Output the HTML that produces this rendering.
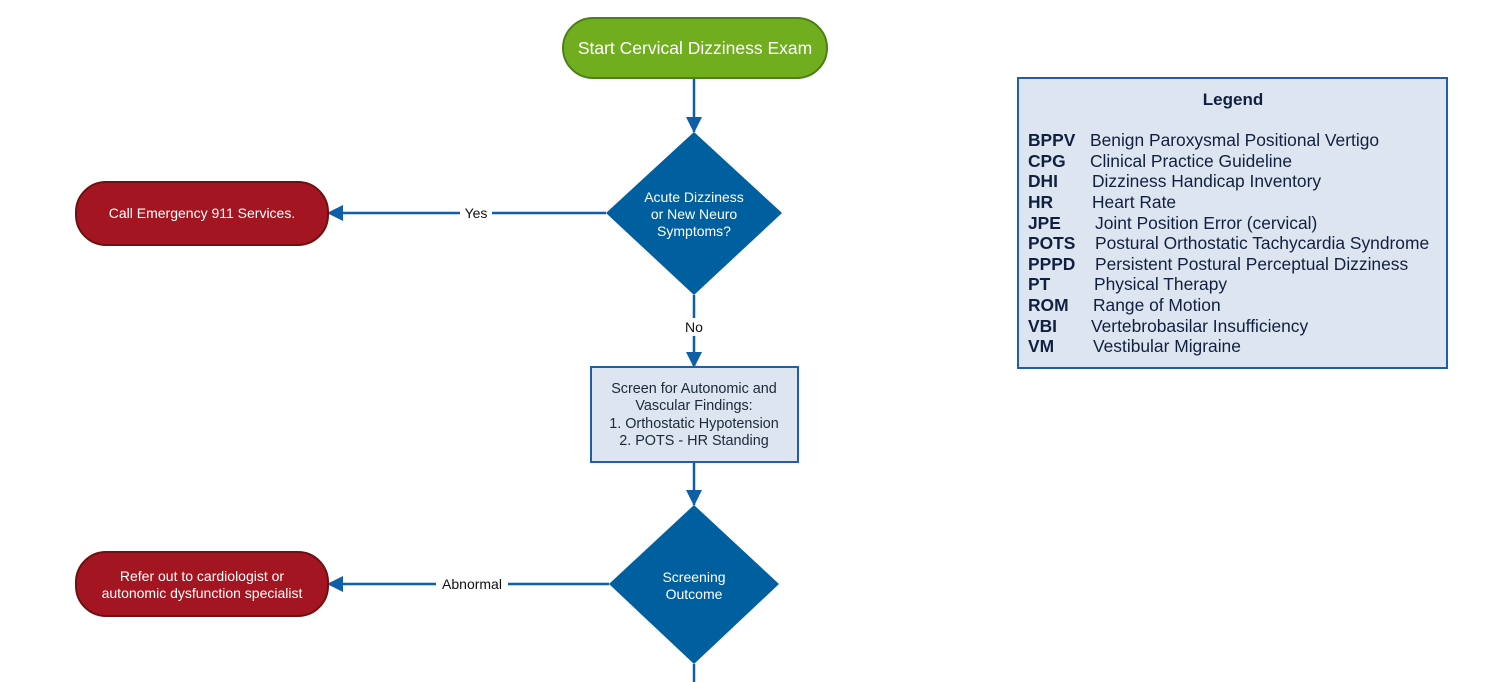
<!DOCTYPE html>
<html><head><style>body{margin:0;background:#fff}svg{display:block}</style></head><body>
<svg width="1487" height="682" xmlns="http://www.w3.org/2000/svg" font-family="Liberation Sans, Arial, sans-serif">
<defs><marker id="b" markerWidth="16" markerHeight="16" refX="15" refY="8" orient="auto" markerUnits="userSpaceOnUse" viewBox="0 0 16 16"><path d="M0,0L16,8L0,16z" fill="#0f5ea8"/></marker></defs>
<g stroke="#0f5ea8" stroke-width="2.5" fill="none">
<line x1="694" y1="78" x2="694" y2="132" marker-end="url(#b)"/>
<line x1="606" y1="213" x2="328" y2="213" marker-end="url(#b)"/>
<line x1="694" y1="295" x2="694" y2="367" marker-end="url(#b)"/>
<line x1="694" y1="462" x2="694" y2="505" marker-end="url(#b)"/>
<line x1="609" y1="584" x2="328" y2="584" marker-end="url(#b)"/>
<line x1="694" y1="664" x2="694" y2="682"/>
</g>
<rect x="563" y="18" width="264" height="60" rx="30" fill="#70ad1f" stroke="#4d7f17" stroke-width="2"/>
<text x="695" y="54" fill="#fff" font-size="17.5" text-anchor="middle">Start Cervical Dizziness Exam</text>
<polygon points="694,132 782,213 694,295 606,213" fill="#005f9e"/>
<text fill="#fff" font-size="14" text-anchor="middle"><tspan x="694" y="202">Acute Dizziness</tspan><tspan x="694" y="219">or New Neuro</tspan><tspan x="694" y="236">Symptoms?</tspan></text>
<rect x="76" y="182" width="252" height="63" rx="30" fill="#a31621" stroke="#6e1010" stroke-width="2"/>
<text x="202" y="218" fill="#fff" font-size="14" text-anchor="middle">Call Emergency 911 Services.</text>
<rect x="460" y="204" width="32" height="18" fill="#fff"/>
<text x="476" y="218" font-size="14" text-anchor="middle" fill="#111">Yes</text>
<rect x="682" y="318" width="24" height="18" fill="#fff"/>
<text x="694" y="332" font-size="14" text-anchor="middle" fill="#111">No</text>
<rect x="591" y="367" width="207" height="95" fill="#dde5f0" stroke="#1f5fa8" stroke-width="2"/>
<text fill="#1a2a3a" font-size="14.4" text-anchor="middle"><tspan x="694" y="393">Screen for Autonomic and</tspan><tspan x="694" y="410">Vascular Findings:</tspan><tspan x="694" y="428">1. Orthostatic Hypotension</tspan><tspan x="694" y="445">2. POTS - HR Standing</tspan></text>
<polygon points="694,505 779,584 694,664 609,584" fill="#005f9e"/>
<text fill="#fff" font-size="14" text-anchor="middle"><tspan x="694" y="582">Screening</tspan><tspan x="694" y="599">Outcome</tspan></text>
<rect x="76" y="552" width="252" height="64" rx="30" fill="#a31621" stroke="#6e1010" stroke-width="2"/>
<text fill="#fff" font-size="14" text-anchor="middle"><tspan x="202" y="581">Refer out to cardiologist or</tspan><tspan x="202" y="598">autonomic dysfunction specialist</tspan></text>
<rect x="436" y="575" width="72" height="18" fill="#fff"/>
<text x="472" y="589" font-size="14" text-anchor="middle" fill="#111">Abnormal</text>
<rect x="1018" y="78" width="429" height="290" fill="#dde5f0" stroke="#1f5fa8" stroke-width="2"/>
<text x="1233" y="105" font-size="17" font-weight="bold" text-anchor="middle" fill="#102040">Legend</text>
<g font-size="17.4" fill="#102040">
<g font-weight="bold">
<text x="1028" y="146">BPPV</text><text x="1028" y="167">CPG</text><text x="1028" y="187">DHI</text><text x="1028" y="208">HR</text><text x="1028" y="229">JPE</text><text x="1028" y="249">POTS</text><text x="1028" y="270">PPPD</text><text x="1028" y="290">PT</text><text x="1028" y="311">ROM</text><text x="1028" y="332">VBI</text><text x="1028" y="352">VM</text>
</g>
<text x="1090" y="146">Benign Paroxysmal Positional Vertigo</text>
<text x="1090" y="167">Clinical Practice Guideline</text>
<text x="1092" y="187">Dizziness Handicap Inventory</text>
<text x="1092" y="208">Heart Rate</text>
<text x="1095" y="229">Joint Position Error (cervical)</text>
<text x="1095" y="249">Postural Orthostatic Tachycardia Syndrome</text>
<text x="1095" y="270">Persistent Postural Perceptual Dizziness</text>
<text x="1094" y="290">Physical Therapy</text>
<text x="1093" y="311">Range of Motion</text>
<text x="1091" y="332">Vertebrobasilar Insufficiency</text>
<text x="1093" y="352">Vestibular Migraine</text>
</g>
</svg>
</body></html>
